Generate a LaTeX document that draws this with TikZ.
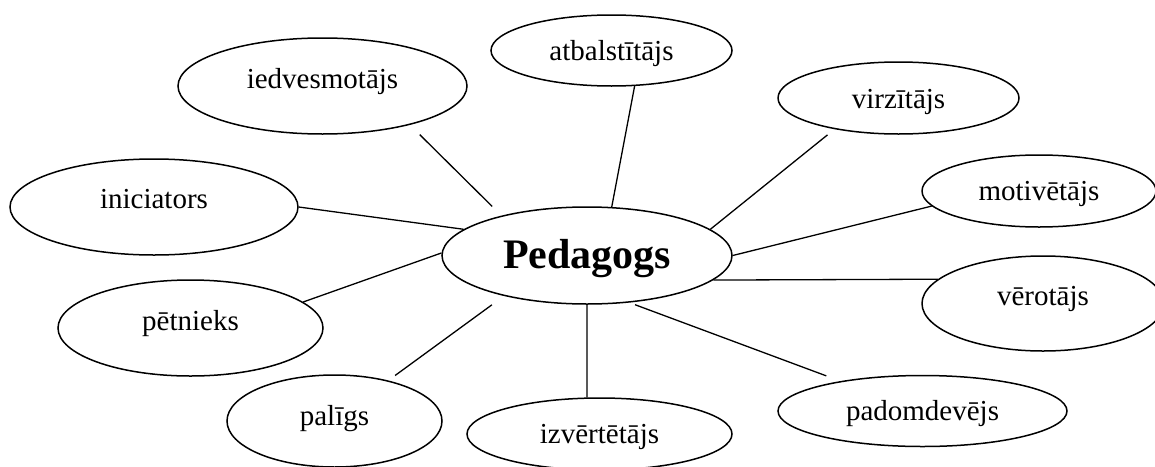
\documentclass[tikz,border=0pt]{standalone}
\usepackage{fontspec}
\setmainfont{Liberation Serif}
\usepackage{tikz}
\usetikzlibrary{shapes.geometric}
\tikzset{
  BaseNode/.style = {inner sep=0pt, ellipse, draw=black, line width=0.75pt},
  RoleNode/.style = {BaseNode, font=\fontsize{14.5pt}{17pt}\selectfont, text height=10pt},
  CoreNode/.style = {BaseNode, font=\fontsize{21pt}{25pt}\selectfont\bfseries, text height=14pt},
  LinkLine/.style = {draw=black, line width=0.65pt},
}
\begin{document}
\begin{tikzpicture}[x=0.5pt,y=-0.5pt]
    \useasboundingbox (0,0) rectangle (1155,466);
    % centre
    \node [CoreNode, minimum width=145pt, minimum height=48.5pt, text depth=1.5pt] (ped) at (587,255.5) {Pedagogs};
    % roles
    \node [RoleNode, minimum width=120.5pt, minimum height=35.5pt, text depth=0pt] (atb) at (611.5,50.5) {atbalstītājs};
    \node [RoleNode, minimum width=144.5pt, minimum height=48pt, text depth=8pt] (iedv) at (322.5,86) {iedvesmotājs};
    \node [RoleNode, minimum width=120.5pt, minimum height=36pt, text depth=0pt] (virz) at (898.5,98) {virzītājs};
    \node [RoleNode, minimum width=117pt, minimum height=36pt, text depth=1pt] (motiv) at (1039,191) {motivētājs};
    \node [RoleNode, minimum width=144pt, minimum height=48pt, text depth=9pt] (inic) at (154,207) {iniciators};
    \node [RoleNode, minimum width=132.5pt, minimum height=48pt, text depth=8pt] (pet) at (190.5,328) {pētnieks};
    \node [RoleNode, minimum width=107.5pt, minimum height=46pt, text depth=6pt] (palig) at (334.5,421) {palīgs};
    \node [RoleNode, minimum width=132.5pt, minimum height=36pt, text depth=1pt] (izv) at (599.5,434) {izvērtētājs};
    \node [RoleNode, minimum width=144.5pt, minimum height=35.5pt, text depth=0.5pt] (padom) at (922.5,411) {padomdevējs};
    \node [RoleNode, minimum width=121pt, minimum height=47.5pt, text depth=8.5pt] (ver) at (1043,303.5) {vērotājs};
    % links
    \draw [LinkLine, shorten <=6.9pt, shorten >=6.5pt] (iedv.-24.2) -- (ped.155.4);
    \draw [LinkLine] (atb.-57.3) -- (ped.63.3);
    \draw [LinkLine, shorten <=4.5pt] (virz.-154.8) -- (ped.12.6);
    \draw [LinkLine] (motiv.-172.2) -- (ped.0.6);
    \draw [LinkLine] (ver.167.4) -- (ped.-11.1);
    \draw [LinkLine, shorten <=7.5pt, shorten >=3pt] (padom.160.3) -- (ped.-48.2);
    \draw [LinkLine] (izv.109.2) -- (ped.-90);
    \draw [LinkLine, shorten <=4.2pt, shorten >=7.5pt] (palig.37.2) -- (ped.-154.8);
    \draw [LinkLine] (pet.13.3) -- (ped.179);
    \draw [LinkLine] (inic.0) -- (ped.168.4);
\end{tikzpicture}
\end{document}
